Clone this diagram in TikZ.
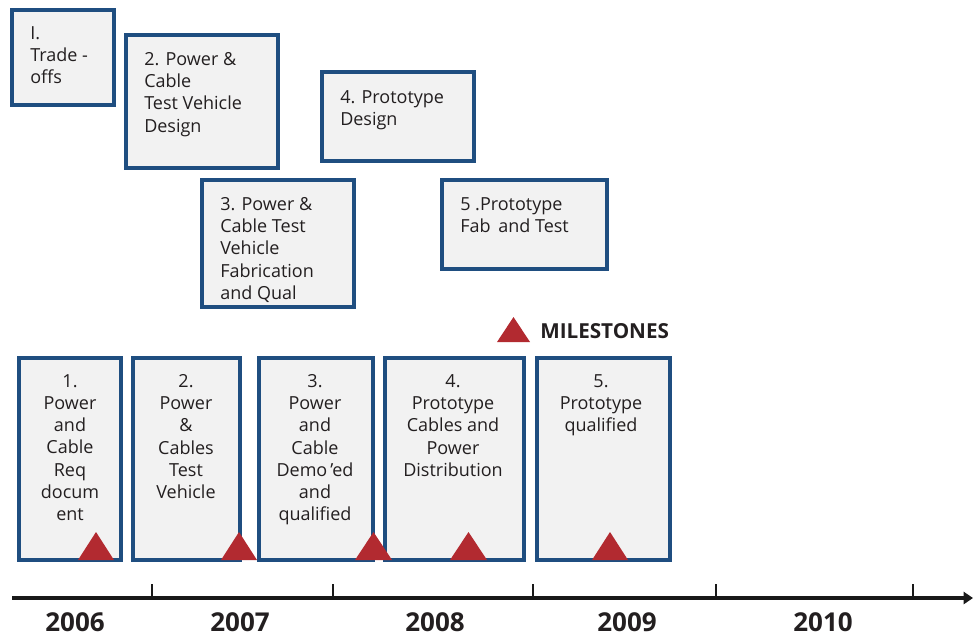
\documentclass[tikz,border=0pt]{standalone}
\usepackage{fontspec}
\setmainfont{Open Sans}
\usetikzlibrary{arrows.meta,fit}
\definecolor{boxblue}{HTML}{1F4E80}
\definecolor{boxfill}{HTML}{F2F2F2}
\definecolor{msred}{HTML}{B22A30}
\definecolor{txtc}{HTML}{231F20}
\begin{document}
\begin{tikzpicture}[x=0.75pt,y=-0.75pt,
  box/.style={draw=boxblue,fill=boxfill,line width=2.3pt,inner sep=0pt},
  ltext/.style={anchor=north west,inner sep=0pt,align=left,text=txtc,font=\fontsize{13.5}{16.7}\selectfont},
  ctext/.style={anchor=north,inner sep=0pt,align=center,text=txtc,font=\fontsize{13.5}{16.7}\selectfont},
  year/.style={inner sep=0pt,text=txtc,font=\fontsize{19.5}{23}\selectfont\bfseries},
  axis/.style={line width=2.8pt,black!90},
  tickline/.style={line width=1.6pt,black!90},
  ms/.style={fill=msred}]
\useasboundingbox (0,0) rectangle (973,637);
% top boxes
\node[box,fit={(12,10) (114,105)}] (a1) {};
\node[box,fit={(126,35) (278,168)}] (a2) {};
\node[box,fit={(322,72) (474,161)}] (a4) {};
\node[box,fit={(202,180) (354,307)}] (a3) {};
\node[box,fit={(442,180) (607,269)}] (a5) {};
\node[ltext] (a1t) at (30,26) {I.\\Trade -\\offs};
\node[ltext] (a2t) at (144,52) {2. Power \&\\Cable\\Test Vehicle\\Design};
\node[ltext] (a4t) at (340,90) {4. Prototype\\Design};
\node[ltext] (a3t) at (220,197) {3. Power \&\\Cable Test\\Vehicle\\Fabrication\\and Qual};
\node[ltext] (a5t) at (460,197) {5 .Prototype\\Fab\, and Test};
% bottom boxes
\node[box,fit={(19,358) (121,560)}] (b1) {};
\node[box,fit={(133,358) (240,560)}] (b2) {};
\node[box,fit={(259,358) (373,560)}] (b3) {};
\node[box,fit={(385,358) (524,560)}] (b4) {};
\node[box,fit={(537,358) (670,560)}] (b5) {};
\node[ctext] (b1t) at (70,374) {1.\\Power\\and\\Cable\\Req\\docum\\ent};
\node[ctext] (b2t) at (186,374) {2.\\Power\\\&\\Cables\\Test\\Vehicle};
\node[ctext] (b3t) at (315,374) {3.\\Power\\and\\Cable\\Demo\,’ed\\and\\qualified};
\node[ctext] (b4t) at (453,374) {4.\\Prototype\\Cables and\\Power\\Distribution};
\node[ctext] (b5t) at (601,374) {5.\\Prototype\\qualified};
% milestone triangles
\fill[ms] (78,560) -- (114,560) -- (96,532) -- cycle;
\fill[ms] (221,560) -- (257,560) -- (239,532) -- cycle;
\fill[ms] (355,560) -- (392,560) -- (373.5,532) -- cycle;
\fill[ms] (450,560) -- (487,560) -- (468.5,532) -- cycle;
\fill[ms] (592,560) -- (628,560) -- (610,532) -- cycle;
% legend
\fill[ms] (497,342) -- (530,342) -- (513.5,317) -- cycle;
\node[anchor=west,inner sep=0pt,text=txtc,font=\fontsize{15.5}{18}\selectfont\bfseries] (leg) at (540,331) {MILESTONES};
% timeline
\coordinate (ax0) at (12,598);
\coordinate (ax1) at (973,598);
\draw[axis,-{Triangle[length=7pt,width=9pt]}] (ax0) -- (ax1);
\foreach \x in {152,333,533,716,913}{
  \draw[tickline] (\x,598) -- (\x,584);
}
\node[year] (y6) at (75,622) {2006};
\node[year] (y7) at (240,622) {2007};
\node[year] (y8) at (435,622) {2008};
\node[year] (y9) at (627,622) {2009};
\node[year] (y10) at (823,622) {2010};
\end{tikzpicture}
\end{document}
